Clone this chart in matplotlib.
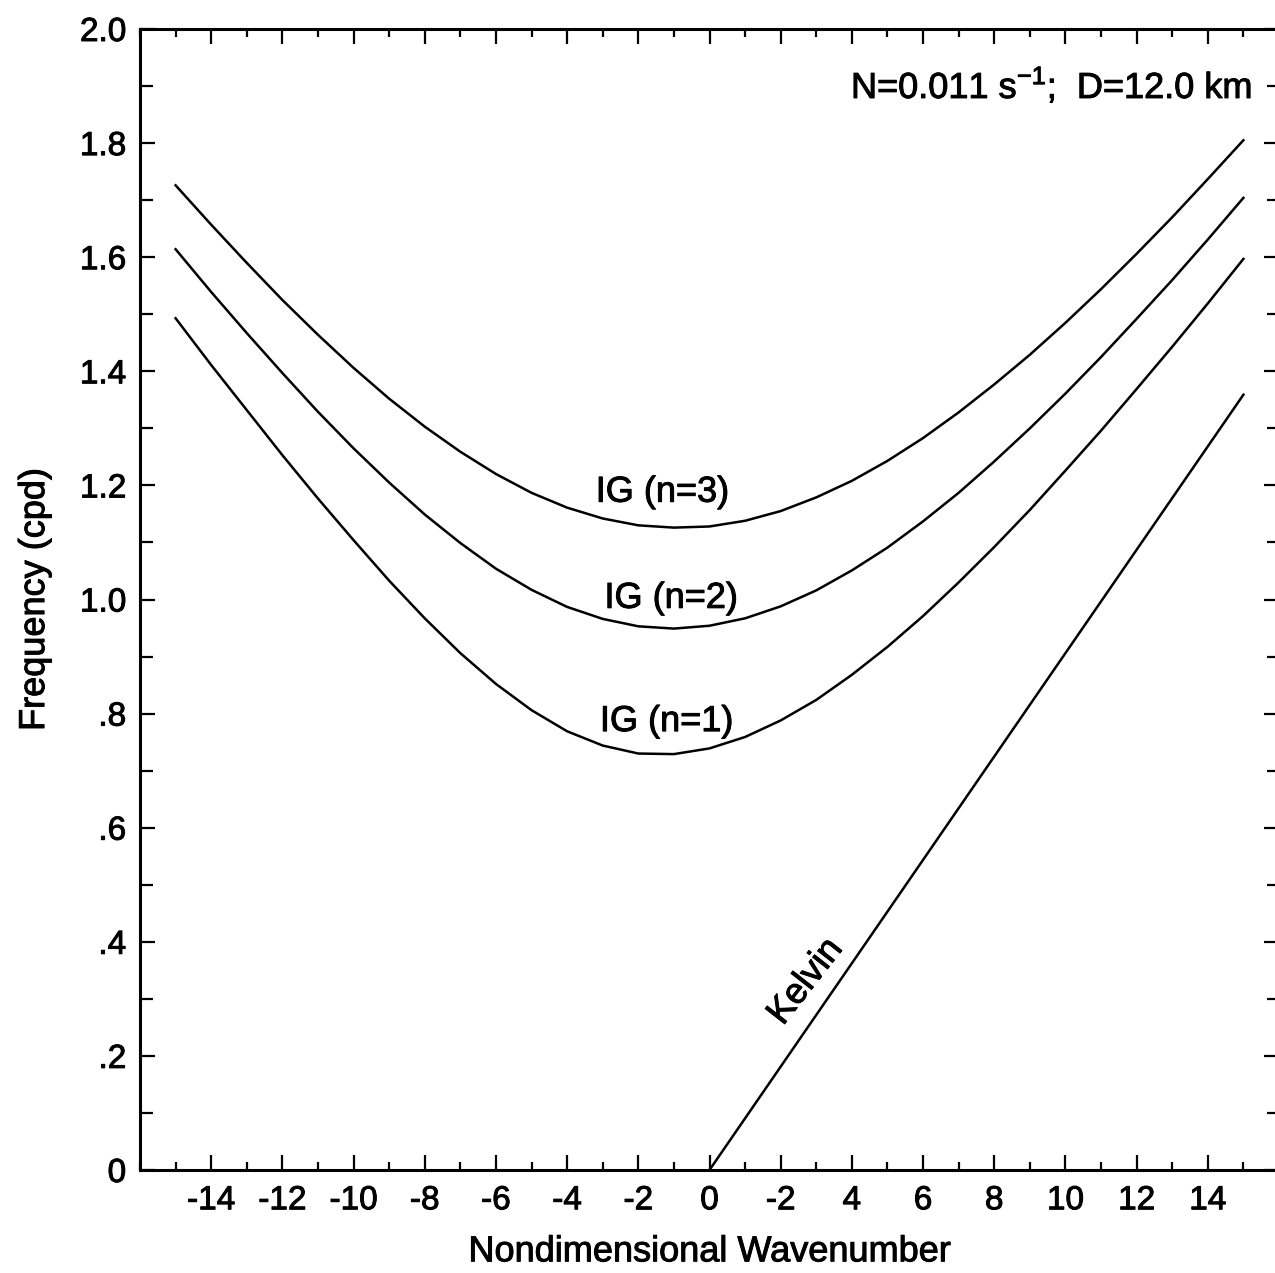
import matplotlib
matplotlib.use("Agg")
import matplotlib.pyplot as plt
import matplotlib.patheffects as pe
from matplotlib.ticker import FixedLocator, MultipleLocator

plt.rcParams['font.family'] = ['Liberation Sans', 'DejaVu Sans']
plt.rcParams['mathtext.fontset'] = 'custom'
plt.rcParams['mathtext.rm'] = 'Liberation Sans'

# ---- data ----
wavenumber = [-15, -14, -13, -12, -11, -10, -9, -8, -7, -6, -5, -4, -3, -2, -1,
              0, 1, 2, 3, 4, 5, 6, 7, 8, 9, 10, 11, 12, 13, 14, 15]
ig_n1 = [1.493, 1.411, 1.332, 1.253, 1.177, 1.104, 1.033, 0.967, 0.906, 0.852,
         0.806, 0.769, 0.744, 0.730, 0.729, 0.739, 0.759, 0.788, 0.824, 0.868,
         0.917, 0.971, 1.030, 1.092, 1.157, 1.226, 1.296, 1.369, 1.443, 1.519, 1.597]
ig_n2 = [1.614, 1.539, 1.467, 1.397, 1.329, 1.265, 1.205, 1.149, 1.099, 1.054,
         1.017, 0.987, 0.966, 0.953, 0.949, 0.954, 0.967, 0.988, 1.016, 1.051,
         1.091, 1.137, 1.187, 1.242, 1.300, 1.361, 1.425, 1.492, 1.560, 1.631, 1.704]
ig_n3 = [1.726, 1.657, 1.590, 1.525, 1.464, 1.406, 1.352, 1.303, 1.259, 1.220,
         1.187, 1.161, 1.142, 1.130, 1.126, 1.128, 1.138, 1.155, 1.179, 1.208,
         1.243, 1.283, 1.328, 1.377, 1.429, 1.485, 1.544, 1.606, 1.670, 1.737, 1.805]
kelvin_k = [0, 15]
kelvin_f = [0.0, 1.359]

xtick_pos = [-14, -12, -10, -8, -6, -4, -2, 0, 2, 4, 6, 8, 10, 12, 14]
xtick_labels = ['-14', '-12', '-10', '-8', '-6', '-4', '-2', '0', '-2', '4',
                '6', '8', '10', '12', '14']
ytick_pos = [0, 0.2, 0.4, 0.6, 0.8, 1.0, 1.2, 1.4, 1.6, 1.8, 2.0]
ytick_labels = ['0', '.2', '.4', '.6', '.8', '1.0', '1.2', '1.4', '1.6', '1.8', '2.0']

curve_labels = ['IG (n=1)', 'IG (n=2)', 'IG (n=3)']

# ---- figure ----
fig = plt.figure(figsize=(12.75, 12.73), dpi=100)
ax = fig.add_axes([140/1275, 103/1273, 1139/1275, 1141/1273])

bold = [pe.withStroke(linewidth=0.7, foreground='black')]

lw = 1.8
for ys in (ig_n1, ig_n2, ig_n3):
    ax.plot(wavenumber, ys, color='black', lw=lw, solid_joinstyle='round')
ax.plot(kelvin_k, kelvin_f, color='black', lw=lw)

ax.set_xlim(-16, 16)
ax.set_ylim(0, 2.0)

ax.xaxis.set_major_locator(FixedLocator(xtick_pos))
ax.set_xticklabels(xtick_labels)
ax.xaxis.set_minor_locator(MultipleLocator(1))
ax.yaxis.set_major_locator(FixedLocator(ytick_pos))
ax.set_yticklabels(ytick_labels)
ax.yaxis.set_minor_locator(MultipleLocator(0.1))

ax.tick_params(which='both', direction='in', top=True, right=True,
               width=1.6, colors='black')
ax.tick_params(axis='x', which='major', length=11, labelsize=24, pad=11)
ax.tick_params(axis='x', which='minor', length=6)
ax.tick_params(axis='y', which='major', length=11, labelsize=24, pad=10)
ax.tick_params(axis='y', which='minor', length=9)

for lab in ax.get_xticklabels() + ax.get_yticklabels():
    lab.set_path_effects(bold)

for sp in ax.spines.values():
    sp.set_linewidth(2.2)
    sp.set_color('black')

ax.set_xlabel('Nondimensional Wavenumber', fontsize=26, labelpad=13,
              path_effects=bold)
ax.set_ylabel('Frequency (cpd)', fontsize=26, labelpad=20, path_effects=bold)

ax.text(15.25, 1.90, r'N=0.011 s$^{\mathregular{-1}}$;  D=12.0 km',
        fontsize=26, ha='right', va='center', path_effects=bold)

ax.text(-1.2, 0.786, curve_labels[0], fontsize=26, ha='center', va='center',
        path_effects=bold)
ax.text(-1.07, 1.002, curve_labels[1], fontsize=26, ha='center', va='center',
        path_effects=bold)
ax.text(-1.32, 1.188, curve_labels[2], fontsize=26, ha='center', va='center',
        path_effects=bold)
ax.text(2.7, 0.33, 'Kelvin', fontsize=26, ha='center', va='center',
        rotation=52, rotation_mode='anchor', path_effects=bold)

fig.savefig('out.png', dpi=100, facecolor='white')
